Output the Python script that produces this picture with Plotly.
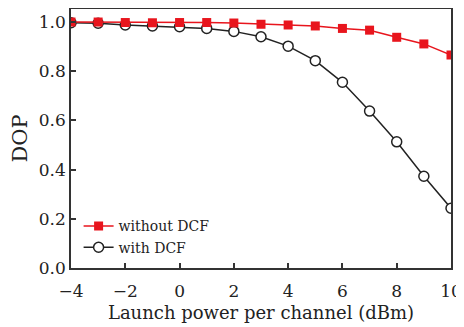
import plotly.graph_objects as go

power = [-4, -3, -2, -1, 0, 1, 2, 3, 4, 5, 6, 7, 8, 9, 10]
dop_without_dcf = [1.0, 1.0, 0.998, 0.997, 0.998, 0.998, 0.996, 0.991, 0.988, 0.984, 0.974, 0.967, 0.938, 0.911, 0.866]
dop_with_dcf = [0.997, 0.995, 0.988, 0.984, 0.981, 0.974, 0.962, 0.940, 0.902, 0.843, 0.755, 0.638, 0.513, 0.373, 0.243]

x_ticks = [-4, -2, 0, 2, 4, 6, 8, 10]
y_ticks = [0.0, 0.2, 0.4, 0.6, 0.8, 1.0]

font_family = "DejaVu Serif"
txt = "#222222"

fig = go.Figure()
fig.add_trace(go.Scatter(
    x=power, y=dop_with_dcf, name="with DCF", mode="lines+markers", legendrank=2,
    line=dict(color="#222222", width=1.5),
    marker=dict(symbol="circle", size=10, color="white", line=dict(color="#222222", width=1.5)),
))
fig.add_trace(go.Scatter(
    x=power, y=dop_without_dcf, name="without DCF", mode="lines+markers", legendrank=1,
    line=dict(color="#e8151d", width=1.5),
    marker=dict(symbol="square", size=9, color="#e8151d", line=dict(width=0)),
))

axis_common = dict(
    showline=True, linecolor="#333333", linewidth=1.5, mirror=True,
    ticks="inside", ticklen=5, tickwidth=1.5, tickcolor="#333333",
    showgrid=False, zeroline=False, automargin=False,
    tickfont=dict(family=font_family, size=17, color=txt),
)

# the page body has an 8px default margin, so the figure is sized to fit inside it
fig.update_layout(
    width=456, height=319,
    margin=dict(l=63, r=13, t=1, b=59),
    paper_bgcolor="white", plot_bgcolor="white",
    font=dict(family=font_family, color=txt),
    xaxis=dict(range=[-4, 10], tickvals=x_ticks, ticklabelstandoff=7,
               title=dict(text="Launch power per channel (dBm)", font=dict(family=font_family, size=18, color=txt), standoff=6),
               **axis_common),
    yaxis=dict(range=[0, 1.053], tickvals=y_ticks, tickformat=".1f",
               title=dict(text="DOP", font=dict(family=font_family, size=21, color=txt), standoff=13),
               **axis_common),
    legend=dict(x=0.02, y=0.12, xanchor="left", yanchor="middle",
                bgcolor="rgba(0,0,0,0)", borderwidth=0,
                font=dict(family=font_family, size=14, color=txt),
                tracegroupgap=0, itemwidth=30),
    showlegend=True,
)

fig.write_html("out.html")
